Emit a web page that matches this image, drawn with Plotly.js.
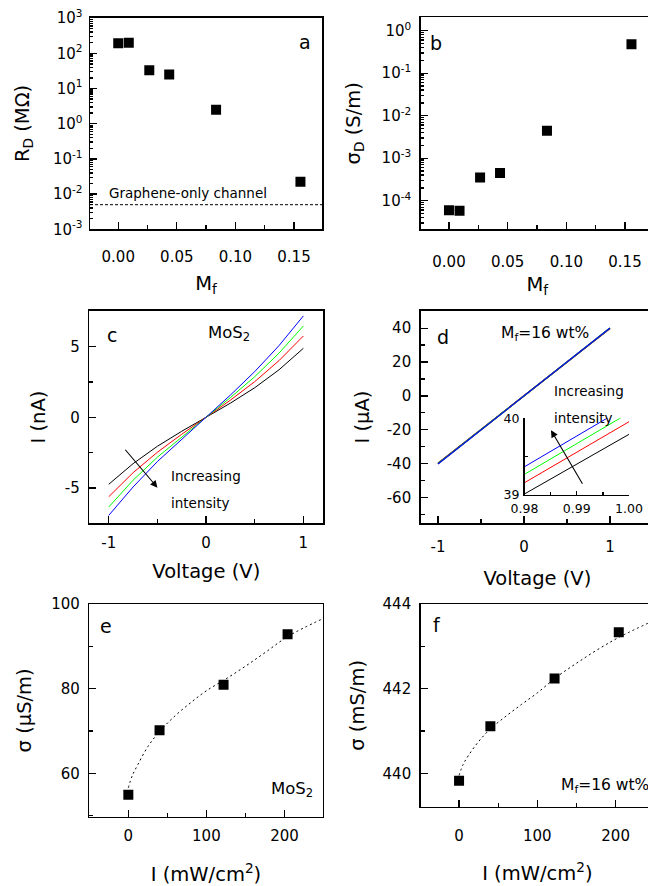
<!DOCTYPE html>
<html><head><meta charset="utf-8">
<script src="https://cdn.plot.ly/plotly-3.0.1.min.js"></script>
<style>html,body{margin:0;padding:0;overflow:hidden;background:#fff}#chart{width:656px;height:886px}</style>
</head><body><div id="chart"></div>
<script>
// ---------- data ----------
const Mf = [0, 0.009, 0.0265, 0.0435, 0.0835, 0.1555];
const RD = [193, 200, 33, 25, 2.5, 0.0224];            // MOhm
const sigmaD = [6.0e-5, 5.8e-5, 3.5e-4, 4.5e-4, 4.4e-3, 0.48]; // S/m
const grapheneOnlyR = 0.005;

const V = [-1, -0.75, -0.5, -0.25, 0, 0.25, 0.5, 0.75, 1];
const IcBlack = [-4.74, -3.28, -2.05, -0.99, 0, 1.00, 2.09, 3.36, 4.88];
const IcRed   = [-5.62, -3.92, -2.47, -1.20, 0, 1.21, 2.52, 4.01, 5.75];
const IcGreen = [-6.35, -4.45, -2.82, -1.38, 0, 1.39, 2.87, 4.54, 6.46];
const IcBlue  = [-6.94, -4.93, -3.13, -1.55, 0, 1.57, 3.23, 5.07, 7.17];

const dV = [-1, -0.5, 0, 0.5, 0.98, 1];
const IdBlack = [-39.8, -19.9, 0, 19.9, 39.01, 39.79];
const IdRed   = [-39.95, -19.98, 0, 19.98, 39.157, 39.955];
const IdGreen = [-40.1, -20.05, 0, 20.05, 39.267, 40.07];
const IdBlue  = [-40.2, -20.1, 0, 20.1, 39.366, 40.17];

const intensity = [0, 40, 122, 204];
const sigmaMoS2 = [54.94, 70.16, 80.93, 92.84];     // uS/m
const sigmaMf16 = [439.825, 441.11, 442.24, 443.33]; // mS/m
const fitI = [0, 5, 12, 25, 40, 60, 80, 100, 125, 150, 175, 205, 250];
const fitMoS2 = [56.6, 59.4, 62.0, 66.3, 69.9, 73.6, 76.7, 79.5, 82.3, 85.3, 88.5, 92.4, 96.6];
const fitMf16 = [439.95, 440.2, 440.42, 440.75, 441.05, 441.35, 441.63, 441.9, 442.28, 442.6, 442.9, 443.22, 443.62];

// tick labels
const logValsA = [1e-3, 1e-2, 1e-1, 1, 1e1, 1e2, 1e3];
const logTextA = ['10<sup>-3</sup>','10<sup>-2</sup>','10<sup>-1</sup>','10<sup>0</sup>','10<sup>1</sup>','10<sup>2</sup>','10<sup>3</sup>'];
const logValsB = [1e-4, 1e-3, 1e-2, 1e-1, 1];
const logTextB = ['10<sup>-4</sup>','10<sup>-3</sup>','10<sup>-2</sup>','10<sup>-1</sup>','10<sup>0</sup>'];
const mfVals = [0, 0.05, 0.10, 0.15];
const mfText = ['0.00', '0.05', '0.10', '0.15'];
const vVals = [-1, 0, 1];
const vText = ['-1', '0', '1'];
const icVals = [-5, 0, 5];
const icText = ['-5', '0', '5'];
const idVals = [-60, -40, -20, 0, 20, 40];
const idText = ['-60', '-40', '-20', '0', '20', '40'];
const iVals = [0, 100, 200];
const iText = ['0', '100', '200'];
const eVals = [60, 80, 100];
const eText = ['60', '80', '100'];
const fVals = [440, 442, 444];
const fText = ['440', '442', '444'];
const insXVals = [0.98, 0.99, 1.00];
const insXText = ['0.98', '0.99', '1.00'];
const insYVals = [39, 40];
const insYText = ['39', '40'];

// ---------- layout helpers ----------
const W = 656, H = 886;
const FONT = 'DejaVu Sans, Arial, sans-serif';
const dx = (a, b) => [a / W, b / W];
const dy = (t, b) => [1 - b / H, 1 - t / H];

function axis(o) {
  const a = {
    domain: o.domain, range: o.range, anchor: o.anchor, type: o.type || 'linear',
    tickmode: 'array', tickvals: o.vals, ticktext: o.text,
    ticks: 'inside', ticklen: o.ticklen || 7, tickwidth: 1.3, tickcolor: '#000',
    showline: true, linecolor: '#000', linewidth: 1.5, mirror: o.mirror === undefined ? true : o.mirror,
    showgrid: false, zeroline: false,
    tickfont: {family: FONT, size: o.tfs || 15, color: '#000'},
    ticklabelstandoff: o.tls || 0,
    minor: {dtick: o.minor, ticks: 'inside', ticklen: o.mlen || 4, tickwidth: 1.3, tickcolor: '#000', showgrid: false}
  };
  if (o.title) a.title = {text: o.title, font: {family: FONT, size: 19.5, color: '#000'}, standoff: o.standoff};
  return a;
}

const sq = {symbol: 'square', size: 10, color: '#000'};
const traces = [];
// a
traces.push({x: Mf, y: RD, xaxis: 'x', yaxis: 'y', mode: 'markers', marker: sq});
traces.push({x: [-0.0241, 0.1739], y: [grapheneOnlyR, grapheneOnlyR], xaxis: 'x', yaxis: 'y', mode: 'lines', line: {color: '#000', width: 1, dash: '3px,2px'}});
// b
traces.push({x: Mf, y: sigmaD, xaxis: 'x2', yaxis: 'y2', mode: 'markers', marker: sq});
// c
[[IcBlack, '#000000'], [IcRed, '#ff0000'], [IcGreen, '#00ff00'], [IcBlue, '#0000ff']].forEach(([y, c]) =>
  traces.push({x: V, y: y, xaxis: 'x3', yaxis: 'y3', mode: 'lines', line: {color: c, width: 1}}));
// d + inset
[[IdBlack, '#000000'], [IdRed, '#ff0000'], [IdGreen, '#00ff00'], [IdBlue, '#0000ff']].forEach(([y, c]) => {
  traces.push({x: dV, y: y, xaxis: 'x4', yaxis: 'y4', mode: 'lines', line: {color: c, width: 1.3}});
  traces.push({x: dV, y: y, xaxis: 'x7', yaxis: 'y7', mode: 'lines', line: {color: c, width: 1}});
});
// e
traces.push({x: fitI, y: fitMoS2, xaxis: 'x5', yaxis: 'y5', mode: 'lines', line: {color: '#000', width: 1, dash: '2px,3px', shape: 'spline'}});
traces.push({x: intensity, y: sigmaMoS2, xaxis: 'x5', yaxis: 'y5', mode: 'markers', marker: sq});
// f
traces.push({x: fitI, y: fitMf16, xaxis: 'x6', yaxis: 'y6', mode: 'lines', line: {color: '#000', width: 1, dash: '2px,3px', shape: 'spline'}});
traces.push({x: intensity, y: sigmaMf16, xaxis: 'x6', yaxis: 'y6', mode: 'markers', marker: sq});
traces.forEach(t => { t.showlegend = false; t.hoverinfo = 'skip'; });

const layout = {
  width: W, height: H, margin: {l: 0, r: 0, t: 0, b: 0},
  paper_bgcolor: '#fff', plot_bgcolor: 'rgba(0,0,0,0)', showlegend: false,
  font: {family: FONT, color: '#000'},
  xaxis:  axis({domain: dx(90, 322), range: [-0.0241, 0.1739], anchor: 'y', vals: mfVals, text: mfText, minor: 0.025, title: 'M<sub>f</sub>', standoff: 11, tls: 13}),
  yaxis:  axis({domain: dy(17.5, 229.3), range: [-3, 3.017], type: 'log', anchor: 'x', vals: logValsA, text: logTextA, minor: 'D1', mlen: 3, title: 'R<sub>D</sub> (MΩ)', standoff: 18, tls: 3}),
  xaxis2: axis({domain: dx(420.7, 654), range: [-0.0241, 0.1747], anchor: 'y2', vals: mfVals, text: mfText, minor: 0.025, title: 'M<sub>f</sub>', standoff: 7, tls: 18}),
  yaxis2: axis({domain: dy(17.3, 229.3), range: [-4.673, 0.315], type: 'log', anchor: 'x2', vals: logValsB, text: logTextB, minor: 'D1', mlen: 3, title: 'σ<sub>D</sub> (S/m)', standoff: 16, tls: 5}),
  xaxis3: axis({domain: dx(89.3, 323.3), range: [-1.2, 1.205], anchor: 'y3', vals: vVals, text: vText, minor: 0.5, title: 'Voltage (V)', standoff: 13, tls: 5}),
  yaxis3: axis({domain: dy(310.7, 523.3), range: [-7.5, 7.54], anchor: 'x3', vals: icVals, text: icText, minor: 2.5, title: 'I (nA)', standoff: 14, tls: 5}),
  xaxis4: axis({domain: dx(420.7, 654), range: [-1.201, 1.512], anchor: 'y4', vals: vVals, text: vText, minor: 0.5, title: 'Voltage (V)', standoff: 16, tls: 9}),
  yaxis4: axis({domain: dy(310.7, 523.3), range: [-75.3, 50.35], anchor: 'x4', vals: idVals, text: idText, minor: 10, title: 'I (μA)', standoff: 12, tls: 5}),
  xaxis5: axis({domain: dx(89.3, 322.7), range: [-50, 249], anchor: 'y5', vals: iVals, text: iText, minor: 50, title: 'I (mW/cm<sup>2</sup>)', standoff: 24, tls: 5}),
  yaxis5: axis({domain: dy(604, 816.7), range: [49.75, 100], anchor: 'x5', vals: eVals, text: eText, minor: 10, title: 'σ (μS/m)', standoff: 14, tls: 5}),
  xaxis6: axis({domain: dx(420.7, 654), range: [-49, 249], anchor: 'y6', vals: iVals, text: iText, minor: 50, title: 'I (mW/cm<sup>2</sup>)', standoff: 22, tls: 15}),
  yaxis6: axis({domain: dy(604, 806.7), range: [439.21, 444], anchor: 'x6', vals: fVals, text: fText, minor: 1, title: 'σ (mS/m)', standoff: 12, tls: 5}),
  xaxis7: axis({domain: dx(524.5, 629), range: [0.98, 1.0], anchor: 'y7', vals: insXVals, text: insXText, minor: 0.005, mirror: false, tfs: 12.5, ticklen: 4, mlen: 3, tls: 2}),
  yaxis7: axis({domain: dy(418.3, 494.7), range: [39, 40], anchor: 'x7', vals: insYVals, text: insYText, minor: 0.5, mirror: false, tfs: 12.5, ticklen: 4, mlen: 3, tls: 1}),
  annotations: []
};

function txt(text, x, y, size, xanchor) {
  layout.annotations.push({text: text, x: x / W, y: 1 - y / H, xref: 'paper', yref: 'paper',
    xanchor: xanchor || 'center', yanchor: 'middle', showarrow: false,
    font: {family: FONT, size: size, color: '#000'}});
}
txt('a', 305, 42, 19);
txt('Graphene-only channel', 107, 193, 13.5, 'left');
txt('b', 436, 43.3, 19);
txt('c', 111.7, 335, 19);
txt('MoS<sub>2</sub>', 205.7, 333, 16.5, 'left');
txt('Increasing', 169, 476, 13.5, 'left');
txt('intensity', 169, 502.7, 13.5, 'left');
txt('d', 443, 336.7, 19);
txt('M<sub>f</sub>=16 wt%', 499, 334, 15.5, 'left');
txt('Increasing', 552.3, 391, 13.5, 'left');
txt('intensity', 552.3, 417.7, 13.5, 'left');
txt('e', 106, 626, 19);
txt('MoS<sub>2</sub>', 269.3, 789, 16.5, 'left');
txt('f', 437.3, 625, 19);
txt('M<sub>f</sub>=16 wt%', 559, 785.5, 15.5, 'left');

// arrows
layout.annotations.push({text: '', showarrow: true, x: -0.4995, y: -4.98, xref: 'x3', yref: 'y3',
  ax: -0.843, ay: -2.19, axref: 'x3', ayref: 'y3', arrowhead: 2, arrowsize: 1.3, arrowwidth: 1.1, arrowcolor: '#000', standoff: 0});
layout.annotations.push({text: '', showarrow: true, x: 0.314, y: -20.3, xref: 'x4', yref: 'y4',
  ax: 0.69, ay: -52.8, axref: 'x4', ayref: 'y4', arrowhead: 2, arrowsize: 1.3, arrowwidth: 1.1, arrowcolor: '#000', standoff: 0});

Plotly.newPlot('chart', traces, layout, {staticPlot: true, displayModeBar: false});
</script></body></html>
